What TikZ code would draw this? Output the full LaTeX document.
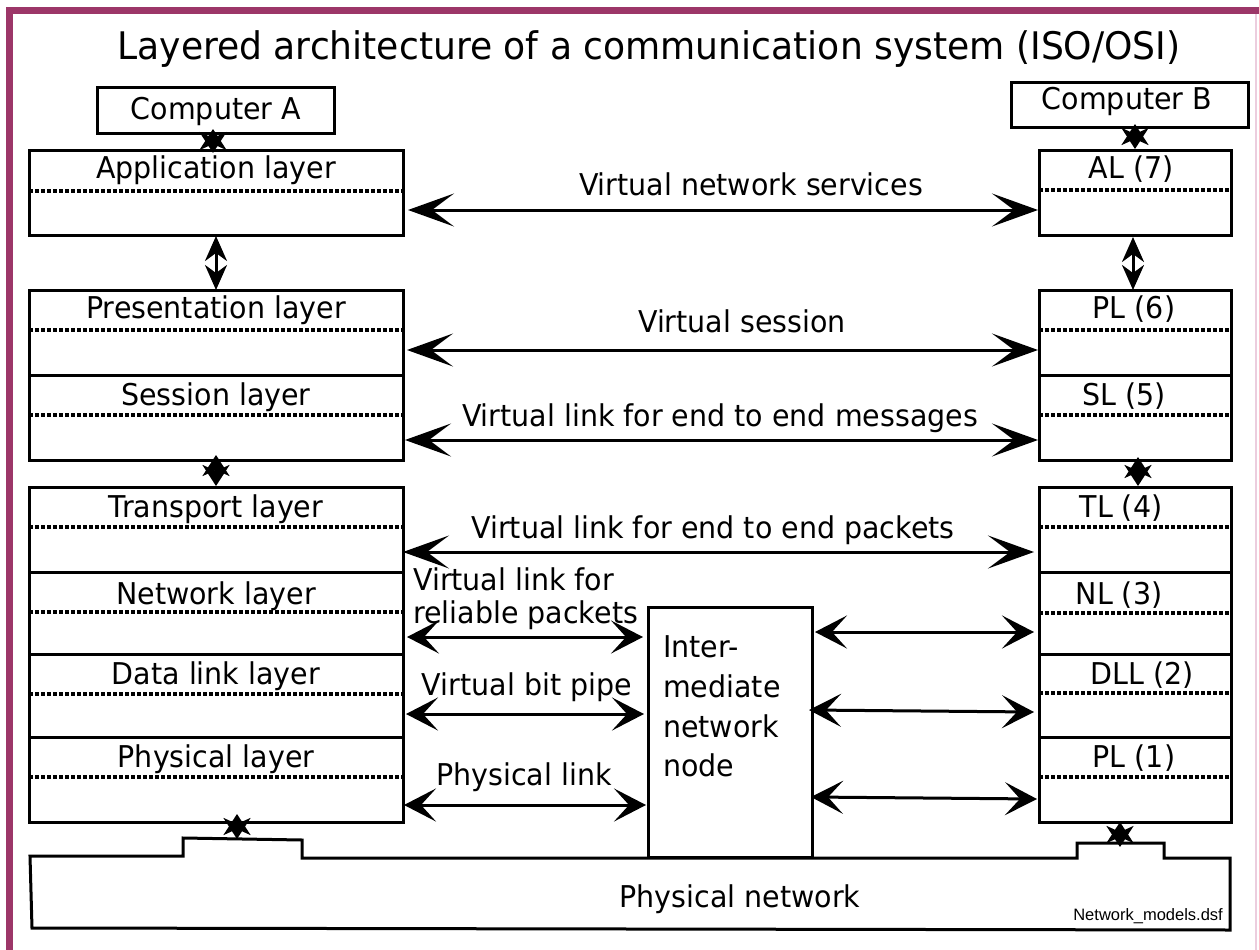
\documentclass[tikz,border=0pt]{standalone}
\usepackage{fontspec}
\setmainfont{DejaVu Sans}[FakeStretch=0.95]
\newfontfamily\smallsans{Liberation Sans}
\usetikzlibrary{arrows.meta}

\definecolor{framepurple}{RGB}{156,54,104}
\definecolor{framepink}{RGB}{236,205,222}

\tikzset{
  layerbox/.style={draw, line width=3pt, inner sep=0pt, outer sep=0pt, anchor=north west},
  divider/.style={line width=3pt},
  dotsep/.style={line width=3.5pt, dash pattern=on 4pt off 2pt},
  lbl/.style={font=\fontsize{30}{36}\selectfont, anchor=base, inner sep=0pt},
  lblw/.style={lbl, anchor=base west},
  biglink/.style={line width=3pt,
    {Stealth[length=46pt,width=33pt,inset=22pt]}-{Stealth[length=46pt,width=33pt,inset=22pt]}},
  link/.style={line width=3pt,
    {Stealth[length=32pt,width=33pt,inset=15pt]}-{Stealth[length=32pt,width=33pt,inset=15pt]}},
  updown/.style={line width=3pt,
    {Stealth[length=25pt,width=22pt,inset=8pt]}-{Stealth[length=25pt,width=22pt,inset=8pt]}},
  cross/.style={line width=3pt,
    {Stealth[length=21pt,width=27pt,inset=6pt]}-{Stealth[length=21pt,width=27pt,inset=6pt]}},
}

\begin{document}
\begin{tikzpicture}[x=1pt, y=-1pt]
  \useasboundingbox (0,0) rectangle (1259,950);

  % frame
  \draw[framepink, line width=1.5pt] (1256,14) -- (1256,950);
  \draw[framepurple, line width=7pt] (9.5,950) -- (9.5,10.5) -- (1259,10.5);

  % title
  \node[lbl, font=\fontsize{38}{46}\selectfont] (title) at (649,60)
    {Layered architecture of a communication system (ISO/OSI)};

  % ---------- computer A ----------
  \node[layerbox, minimum width=237, minimum height=45] (compA) at (97,88) {};
  \node[lbl] (compAtxt) at (216,119) {Computer A};

  \node[layerbox, minimum width=374, minimum height=85] (alA) at (29,150) {};
  \draw[dotsep] (29,191) -- (403,191);
  \node[lbl] (alAtxt) at (216,178) {Application layer};

  \node[layerbox, minimum width=374, minimum height=170] (psA) at (29,290) {};
  \draw[divider] (29,375) -- (403,375);
  \draw[dotsep] (29,330) -- (403,330);
  \draw[dotsep] (29,415) -- (403,415);
  \node[lbl] (plA) at (216,318) {Presentation layer};
  \node[lbl] (slA) at (216,405) {Session layer};

  \node[layerbox, minimum width=374, minimum height=335] (lowA) at (29,487) {};
  \draw[divider] (29,572) -- (403,572);
  \draw[divider] (29,654) -- (403,654);
  \draw[divider] (29,737) -- (403,737);
  \draw[dotsep] (29,527) -- (403,527);
  \draw[dotsep] (29,612) -- (403,612);
  \draw[dotsep] (29,694) -- (403,694);
  \draw[dotsep] (29,777) -- (403,777);
  \node[lbl] (tlA) at (216,517) {Transport layer};
  \node[lbl] (nlA) at (216,604) {Network layer};
  \node[lbl] (dlA) at (216,684) {Data link layer};
  \node[lbl] (phA) at (216,767) {Physical layer};

  % ---------- computer B ----------
  \node[layerbox, minimum width=237, minimum height=44] (compB) at (1011,83) {};
  \node[lbl] (compBtxt) at (1127,110) {Computer B};

  \node[layerbox, minimum width=192, minimum height=85] (alB) at (1039,150) {};
  \draw[dotsep] (1039,190) -- (1231,190);
  \node[lbl] (alBtxt) at (1131,178) {AL (7)};

  \node[layerbox, minimum width=192, minimum height=170] (psB) at (1039,290) {};
  \draw[divider] (1039,375) -- (1231,375);
  \draw[dotsep] (1039,330) -- (1231,330);
  \draw[dotsep] (1039,415) -- (1231,415);
  \node[lbl] (plB) at (1134,318) {PL (6)};
  \node[lbl] (slB) at (1124,405) {SL (5)};

  \node[layerbox, minimum width=192, minimum height=335] (lowB) at (1039,487) {};
  \draw[divider] (1039,572) -- (1231,572);
  \draw[divider] (1039,654) -- (1231,654);
  \draw[divider] (1039,737) -- (1231,737);
  \draw[dotsep] (1039,527) -- (1231,527);
  \draw[dotsep] (1039,613) -- (1231,613);
  \draw[dotsep] (1039,693) -- (1231,693);
  \draw[dotsep] (1039,777) -- (1231,777);
  \node[lbl] (tlB) at (1121,517) {TL (4)};
  \node[lbl] (nlB) at (1119,604) {NL (3)};
  \node[lbl] (dlB) at (1142,684) {DLL (2)};
  \node[lbl] (phB) at (1134,767) {PL (1)};

  % ---------- physical network ----------
  \draw[line width=3pt, line join=miter] (30,856) -- (183,856) -- (183,838) -- (302,840)
    -- (302,858) -- (1077,858) -- (1077,843) -- (1164,843) -- (1164,858)
    -- (1230,858) -- (1230,930) -- (32,928) -- cycle;
  \node[lbl] (netTxt) at (740,907) {Physical network};
  \node[anchor=base east, inner sep=0pt, font=\smallsans\fontsize{16.5}{20}\selectfont]
    (fname) at (1223,920) {Network\_models.dsf};

  % ---------- intermediate node ----------
  \node[layerbox, fill=white, minimum width=164, minimum height=250] (inode) at (648,607) {};
  \node[lblw] (in1) at (663,657) {Inter-};
  \node[lblw] (in2) at (663,697) {mediate};
  \node[lblw] (in3) at (663,737) {network};
  \node[lblw] (in4) at (663,776) {node};

  % ---------- peer links ----------
  \coordinate (l1a) at (408,210);  \coordinate (l1b) at (1038,210);
  \coordinate (l2a) at (407,350);  \coordinate (l2b) at (1038,350);
  \coordinate (l3a) at (405,440);  \coordinate (l3b) at (1038,440);
  \coordinate (l4a) at (403,552);  \coordinate (l4b) at (1034,552);
  \coordinate (l5a) at (407,637);  \coordinate (l5b) at (643,637);
  \coordinate (l6a) at (406,714);  \coordinate (l6b) at (644,714);
  \coordinate (l7a) at (404,805);  \coordinate (l7b) at (646,805);
  \coordinate (r5a) at (815,632);  \coordinate (r5b) at (1034,632);
  \coordinate (r6a) at (809,710);  \coordinate (r6b) at (1034,712);
  \coordinate (r7a) at (811,797);  \coordinate (r7b) at (1037,799);

  \draw[biglink] (l1a) -- (l1b);
  \draw[biglink] (l2a) -- (l2b);
  \draw[biglink] (l3a) -- (l3b);
  \draw[biglink] (l4a) -- (l4b);
  \draw[link] (l5a) -- (l5b);
  \draw[link] (l6a) -- (l6b);
  \draw[link] (l7a) -- (l7b);
  \draw[link] (r5a) -- (r5b);
  \draw[link] (r6a) -- (r6b);
  \draw[link] (r7a) -- (r7b);

  \node[lbl] (t1) at (751,195) {Virtual network services};
  \node[lbl] (t2) at (742,332) {Virtual session};
  \node[lbl] (t3) at (720,426) {Virtual link for end to end messages};
  \node[lbl] (t4) at (713,538) {Virtual link for end to end packets};
  \node[lblw] (t5a) at (413,590) {Virtual link for};
  \node[lblw] (t5b) at (413,623) {reliable packets};
  \node[lbl] (t6) at (527,695) {Virtual bit pipe};
  \node[lbl] (t7) at (524,785) {Physical link};

  % ---------- vertical interfaces ----------
  \coordinate (v1a) at (216,236); \coordinate (v1b) at (216,290);
  \coordinate (v2a) at (1133,237); \coordinate (v2b) at (1133,290);
  \draw[updown] (v1a) -- (v1b);
  \draw[updown] (v2a) -- (v2b);

  \coordinate (x1a) at (213,129); \coordinate (x1b) at (213,153);
  \coordinate (x2a) at (1135,124); \coordinate (x2b) at (1135,149);
  \coordinate (x3a) at (216,455); \coordinate (x3b) at (216,486);
  \coordinate (x4a) at (1138,457); \coordinate (x4b) at (1138,486);
  \coordinate (x5a) at (237,814); \coordinate (x5b) at (237,839);
  \coordinate (x6a) at (1120,822); \coordinate (x6b) at (1120,847);
  \draw[cross] (x1a) -- (x1b);
  \draw[cross] (x2a) -- (x2b);
  \draw[cross] (x3a) -- (x3b);
  \draw[cross] (x4a) -- (x4b);
  \draw[cross] (x5a) -- (x5b);
  \draw[cross] (x6a) -- (x6b);
\end{tikzpicture}
\end{document}
